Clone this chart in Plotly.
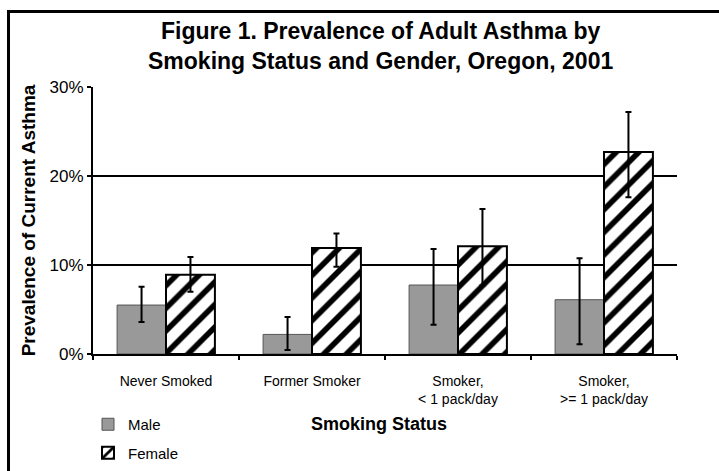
import plotly.graph_objects as go

# Smoking status categories (x axis)
categories = ["Never Smoked", "Former Smoker", "Smoker,<br>< 1 pack/day", "Smoker,<br>>= 1 pack/day"]

# Prevalence of current asthma (%) with 95% confidence bounds
male_pct = [5.5, 2.2, 7.75, 6.1]
male_lo = [3.6, 0.45, 3.3, 1.1]
male_hi = [7.55, 4.15, 11.8, 10.75]

female_pct = [8.9, 11.9, 12.1, 22.7]
female_lo = [7.0, 9.8, 7.7, 17.6]
female_hi = [10.9, 13.55, 16.3, 27.2]

FONT = "Liberation Sans, Arial, sans-serif"


def err(vals, lo, hi):
    return dict(
        type="data", symmetric=False,
        array=[h - v for v, h in zip(vals, hi)],
        arrayminus=[v - l for v, l in zip(vals, lo)],
        color="black", thickness=2, width=3,
    )


fig = go.Figure()
fig.add_trace(go.Bar(
    name="Male", x=categories, y=male_pct, legendgroup="m",
    marker=dict(color="#999999", line=dict(color="#555555", width=1)),
    error_y=err(male_pct, male_lo, male_hi),
))
fig.add_trace(go.Bar(
    name="Female", x=categories, y=female_pct, legendgroup="f",
    marker=dict(color="white", line=dict(color="black", width=2),
                pattern=dict(shape="/", fgcolor="black", bgcolor="white",
                             fgopacity=1, size=16, solidity=0.35)),
    error_y=err(female_pct, female_lo, female_hi),
))

L, R, T, B = 93, 42, 87, 117
W, H = 719, 471
pw, ph = W - L - R, H - T - B


def px(x):
    return (x - L) / pw


def py(y):
    return (H - B - y) / ph


fig.update_layout(
    width=W, height=H,
    margin=dict(l=L, r=R, t=T, b=B, autoexpand=False),
    paper_bgcolor="white", plot_bgcolor="white",
    font=dict(family=FONT, size=14, color="black"),
    barmode="group", bargap=0.33, bargroupgap=0,
    showlegend=True,
    legend=dict(
        x=px(88), y=py(408), xanchor="left", yanchor="top",
        font=dict(size=15), traceorder="grouped",
        bgcolor="rgba(0,0,0,0)",
        tracegroupgap=6,
    ),
    xaxis=dict(
        showline=True, linecolor="black", linewidth=2,
        ticks="outside", ticklen=4, tickwidth=2, tickcolor="black",
        tickson="boundaries", showgrid=False,
        tickfont=dict(size=14), ticklabelstandoff=13,
    ),
    yaxis=dict(
        range=[0, 30], dtick=10, ticksuffix="%",
        showline=True, linecolor="black", linewidth=2,
        ticks="outside", ticklen=4, tickwidth=2, tickcolor="black",
        showgrid=True, gridcolor="black", gridwidth=2,
        zeroline=False, tickfont=dict(size=17),
        title=dict(text="<b>Prevalence of Current Asthma</b>", font=dict(size=19), standoff=9),
    ),
    annotations=[
        dict(text="<b>Figure 1. Prevalence of Adult Asthma by<br>Smoking Status and Gender, Oregon, 2001</b>",
             xref="paper", yref="paper", x=px(380), y=py(46), xanchor="center", yanchor="middle",
             showarrow=False, font=dict(size=23), align="center"),
        dict(text="<b>Smoking Status</b>", xref="paper", yref="paper",
             x=px(379), y=py(424), xanchor="center", yanchor="middle",
             showarrow=False, font=dict(size=18)),
    ],
    shapes=[
        dict(type="rect", xref="paper", yref="paper",
             x0=px(8.5), x1=px(740), y0=py(500), y1=py(11.5),
             line=dict(color="black", width=3), layer="below"),
    ],
)

fig.write_html("out.html")
